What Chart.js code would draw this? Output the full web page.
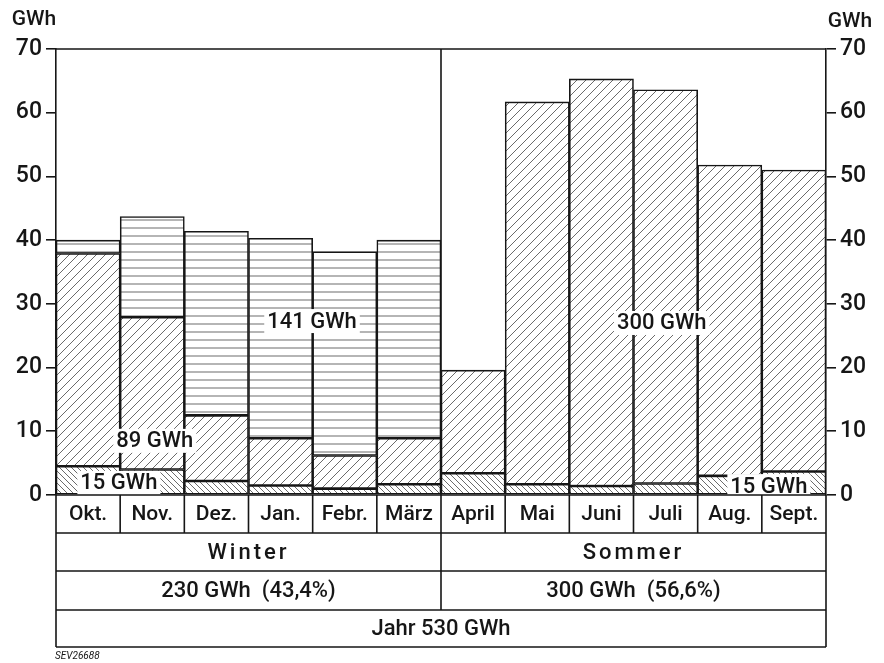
<!DOCTYPE html>
<html>
<head>
<meta charset="utf-8">
<script src="https://cdn.jsdelivr.net/npm/chart.js@4.4.0/dist/chart.umd.min.js"></script>
<style>
  body { margin: 0; background: #fff; }
</style>
</head>
<body>
<canvas id="chart" width="884" height="663"></canvas>
<script>
// monthly production, GWh
var months = ["Okt.", "Nov.", "Dez.", "Jan.", "Febr.", "März", "April", "Mai", "Juni", "Juli", "Aug.", "Sept."];
var lowerPart = [4.5, 4.0, 2.2, 1.5, 1.0, 1.7, 3.4, 1.7, 1.4, 1.8, 3.0, 3.7];
var middlePart = [33.4, 23.9, 10.3, 7.4, 5.2, 7.2, 16.2, 60.0, 63.9, 61.8, 48.8, 47.3];
var upperPart = [2.1, 15.8, 28.9, 31.4, 32.0, 31.1, null, null, null, null, null, null];
var yTicks = [0, 10, 20, 30, 40, 50, 60, 70];
var seasons = ["Winter", "Sommer"];
var seasonTotals = ["230 GWh  (43,4%)", "300 GWh  (56,6%)"];
var yearTotal = "Jahr 530 GWh";
var unit = "GWh";

// in-chart labels: fractional month index + value
var notes = [
  { text: "141 GWh", at: 3.49, value: 27.3 },
  { text: "300 GWh", at: 8.94, value: 27.0 },
  { text: "89 GWh", at: 1.04, value: 8.5 },
  { text: "15 GWh", at: 0.48, value: 1.9 },
  { text: "15 GWh", at: 10.61, value: 1.4 }
];

var FONT = "Roboto, 'Liberation Sans', sans-serif";
var INK = "#161616";

let canvas = document.getElementById("chart");
let ctx = canvas.getContext("2d");

function makeHatch(size, kind) {
  let c = document.createElement("canvas");
  c.width = size; c.height = size;
  let g = c.getContext("2d");
  g.fillStyle = "#fff";
  g.fillRect(0, 0, size, size);
  g.strokeStyle = "#505050";
  g.lineWidth = 0.85;
  g.beginPath();
  if (kind == "slash") {
    g.moveTo(0, size); g.lineTo(size, 0);
    g.moveTo(-1, 1); g.lineTo(1, -1);
    g.moveTo(size - 1, size + 1); g.lineTo(size + 1, size - 1);
  } else if (kind == "back") {
    g.moveTo(0, 0); g.lineTo(size, size);
    g.moveTo(-1, size - 1); g.lineTo(1, size + 1);
    g.moveTo(size - 1, -1); g.lineTo(size + 1, 1);
  } else {
    g.moveTo(0, size / 2); g.lineTo(size, size / 2);
  }
  g.stroke();
  return ctx.createPattern(c, "repeat");
}

let backHatch = makeHatch(6, "back");
let slashHatch = makeHatch(9, "slash");
let lineHatch = makeHatch(8, "horiz");

let notesPlugin = {
  id: "notes",
  afterDatasetsDraw(chart) {
    let c = chart.ctx;
    let xs = chart.scales.x, ys = chart.scales.y;
    let step = xs.getPixelForValue(1) - xs.getPixelForValue(0);
    c.save();
    c.font = "500 22px " + FONT;
    c.textAlign = "center";
    c.textBaseline = "middle";
    notes.forEach(function (n) {
      let x = xs.getPixelForValue(0) + n.at * step;
      let y = ys.getPixelForValue(n.value);
      let w = c.measureText(n.text).width + 6;
      c.fillStyle = "#fff";
      c.fillRect(x - w / 2, y - 12, w, 24);
      c.fillStyle = INK;
      c.fillText(n.text, x, y + 1);
    });
    c.restore();
  }
};

let tablePlugin = {
  id: "table",
  afterDraw(chart) {
    let c = chart.ctx;
    let a = chart.chartArea;
    let xs = chart.scales.x;
    let step = xs.getPixelForValue(1) - xs.getPixelForValue(0);
    let left = a.left, right = a.right, mid = (left + right) / 2;
    let rows = [a.bottom, a.bottom + 38, a.bottom + 76, a.bottom + 115, a.bottom + 152];
    c.save();
    c.strokeStyle = INK;
    c.lineWidth = 1.6;
    c.beginPath();
    // top frame line
    c.moveTo(left, a.top); c.lineTo(right, a.top);
    // row lines
    rows.forEach(function (r) { c.moveTo(left, r); c.lineTo(right, r); });
    c.moveTo(left, rows[0]); c.lineTo(left, rows[4]);
    c.moveTo(right, rows[0]); c.lineTo(right, rows[4]);
    // month cell dividers
    for (let i = 1; i < months.length; i++) {
      let x = xs.getPixelForValue(i) - step / 2;
      c.moveTo(x, rows[0]); c.lineTo(x, rows[1]);
    }
    // season divider
    c.moveTo(mid, a.top); c.lineTo(mid, rows[3]);
    c.stroke();

    c.fillStyle = INK;
    c.textAlign = "center";
    c.textBaseline = "middle";
    c.font = "500 21px " + FONT;
    months.forEach(function (m, i) {
      c.fillText(m, xs.getPixelForValue(i), (rows[0] + rows[1]) / 2 + 1);
    });
    c.font = "500 22px " + FONT;
    c.letterSpacing = "3px";
    c.fillText(seasons[0], (left + mid) / 2, (rows[1] + rows[2]) / 2 + 1);
    c.fillText(seasons[1], (mid + right) / 2, (rows[1] + rows[2]) / 2 + 1);
    c.letterSpacing = "0px";
    c.fillText(seasonTotals[0], (left + mid) / 2, (rows[2] + rows[3]) / 2 + 1);
    c.fillText(seasonTotals[1], (mid + right) / 2, (rows[2] + rows[3]) / 2 + 1);
    c.fillText(yearTotal, mid, (rows[3] + rows[4]) / 2 + 1);

    // unit labels above the axes
    c.font = "500 21px " + FONT;
    c.fillText(unit, 34, 20);
    c.fillText(unit, 850, 22);

    // drawing number
    c.font = "italic 10px " + FONT;
    c.textAlign = "left";
    c.fillText("SEV26688", 55, 656);
    c.restore();
  }
};

function barSet(label, values, fill) {
  return {
    label: label,
    data: values,
    backgroundColor: fill,
    borderColor: INK,
    borderWidth: 1.6,
    borderSkipped: false,
    barPercentage: 1,
    categoryPercentage: 1,
    stack: "p"
  };
}

let axisStyle = function (pos, width) {
  return {
    position: pos,
    min: yTicks[0],
    max: yTicks[yTicks.length - 1],
    afterFit: function (s) { s.width = width; },
    border: { display: true, color: INK, width: 1.6 },
    grid: { drawOnChartArea: false, drawTicks: true, tickLength: 10, color: INK, lineWidth: 1.6 },
    ticks: {
      stepSize: 10,
      padding: 4,
      color: INK,
      font: { size: 23, family: FONT, weight: "500" }
    }
  };
};

let productionChart = new Chart(canvas, {
  type: "bar",
  data: {
    labels: months,
    datasets: [
      barSet("unten", lowerPart, backHatch),
      barSet("mitte", middlePart, slashHatch),
      barSet("oben", upperPart, lineHatch)
    ]
  },
  options: {
    responsive: false,
    animation: false,
    layout: { padding: { top: 49, bottom: 168, left: 0, right: 0 } },
    plugins: {
      legend: { display: false },
      tooltip: { enabled: false }
    },
    scales: {
      x: { display: false, stacked: true },
      y: Object.assign(axisStyle("left", 56), { stacked: true }),
      y2: axisStyle("right", 58)
    }
  },
  plugins: [notesPlugin, tablePlugin]
});
</script>
</body>
</html>
